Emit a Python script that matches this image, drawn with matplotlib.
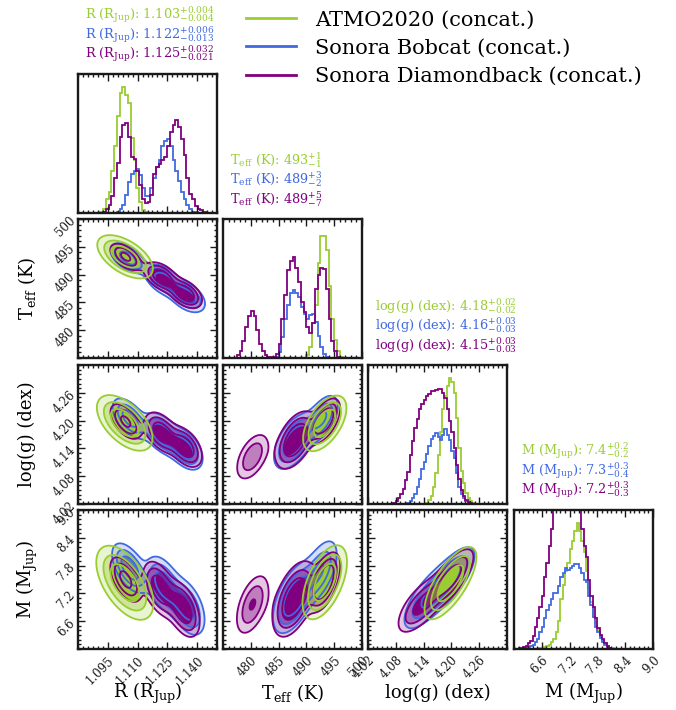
import numpy as np
import matplotlib
matplotlib.use("Agg")
import matplotlib.pyplot as plt
from matplotlib.colors import to_rgba
from matplotlib.lines import Line2D
from matplotlib.ticker import FixedLocator, AutoMinorLocator

plt.rcParams["font.family"] = ["DejaVu Serif"]
plt.rcParams["mathtext.fontset"] = "dejavuserif"

# --- models -------------------------------------------------------------
models = ["ATMO2020 (concat.)", "Sonora Bobcat (concat.)", "Sonora Diamondback (concat.)"]
colors = ["#9acd32", "#4169e1", "#800080"]

# --- parameters -----------------------------------------------------------
names = ["R (R$_{\\rm Jup}$)", "T$_{\\rm eff}$ (K)", "log(g) (dex)", "M (M$_{\\rm Jup}$)"]
ranges = [(1.08, 1.15), (475.0, 500.0), (4.02, 4.32), (6.0, 9.0)]
ticks = [[1.095, 1.110, 1.125, 1.140],
         [480, 485, 490, 495, 500],
         [4.02, 4.08, 4.14, 4.20, 4.26],
         [6.6, 7.2, 7.8, 8.4, 9.0]]
tick_fmt = ["{:.3f}", "{:.0f}", "{:.2f}", "{:.1f}"]
n_minor = [6, 5, 6, 6]

# median and 68% interval per model
r_med, r_up, r_lo = [1.103, 1.122, 1.125], [0.004, 0.006, 0.032], [0.004, 0.013, 0.021]
teff_med, teff_up, teff_lo = [493, 489, 489], [1, 3, 5], [1, 2, 7]
logg_med, logg_up, logg_lo = [4.18, 4.16, 4.15], [0.02, 0.03, 0.03], [0.02, 0.03, 0.03]
m_med, m_up, m_lo = [7.4, 7.3, 7.2], [0.2, 0.3, 0.3], [0.2, 0.4, 0.3]

# --- 1D posteriors (relative density per bin) ------------------------------
n_bins = [50, 50, 60, 60]

r_start = [8, 14, 9]
r_hist_atmo = [0.01, 0.03, 0.10, 0.15, 0.30, 0.48, 0.70, 0.86, 0.91, 0.85, 0.79, 0.54,
               0.38, 0.18, 0.08, 0.02, 0.005]
r_hist_bobcat = [0.01, 0.03, 0.06, 0.13, 0.22, 0.28, 0.30, 0.32, 0.27, 0.18, 0.12, 0.12,
                 0.18, 0.25, 0.33, 0.38, 0.48, 0.52, 0.53, 0.48, 0.38, 0.30, 0.23, 0.15,
                 0.10, 0.06, 0.03, 0.01, 0.005]
r_hist_diamond = [0.01, 0.03, 0.06, 0.12, 0.25, 0.36, 0.55, 0.63, 0.65, 0.55, 0.40, 0.39,
                  0.30, 0.20, 0.10, 0.07, 0.08, 0.13, 0.28, 0.33, 0.35, 0.38, 0.40, 0.48,
                  0.58, 0.63, 0.67, 0.62, 0.53, 0.42, 0.25, 0.14, 0.10, 0.05, 0.03, 0.02,
                  0.01]

teff_start = [30, 19, 5]
teff_hist_atmo = [0.02, 0.08, 0.25, 0.38, 0.68, 0.88, 0.88, 0.78, 0.52, 0.28, 0.13,
                  0.05, 0.01]
teff_hist_bobcat = [0.01, 0.04, 0.15, 0.28, 0.38, 0.47, 0.49, 0.47, 0.44, 0.37, 0.32,
                    0.28, 0.31, 0.32, 0.26, 0.16, 0.08, 0.03, 0.01]
teff_hist_diamond = [0.02, 0.05, 0.12, 0.22, 0.30, 0.34, 0.30, 0.20, 0.10, 0.05, 0.02,
                     0.01, 0.005, 0.01, 0.03, 0.10, 0.28, 0.45, 0.63, 0.70, 0.73, 0.65,
                     0.55, 0.40, 0.33, 0.22, 0.18, 0.25, 0.50, 0.60, 0.65, 0.64, 0.50,
                     0.28, 0.12, 0.05, 0.01]

logg_start = [25, 17, 11]
logg_hist_atmo = [0.01, 0.03, 0.06, 0.12, 0.22, 0.35, 0.52, 0.68, 0.78, 0.85, 0.91, 0.88,
                  0.80, 0.62, 0.40, 0.24, 0.15, 0.08, 0.04, 0.02, 0.005]
logg_hist_bobcat = [0.01, 0.02, 0.04, 0.07, 0.12, 0.18, 0.25, 0.30, 0.36, 0.42, 0.47,
                    0.49, 0.51, 0.48, 0.46, 0.50, 0.54, 0.50, 0.46, 0.38, 0.33, 0.22,
                    0.12, 0.07, 0.04, 0.02, 0.01]
logg_hist_diamond = [0.01, 0.02, 0.04, 0.07, 0.11, 0.17, 0.23, 0.35, 0.45, 0.55, 0.61,
                     0.68, 0.72, 0.75, 0.78, 0.79, 0.81, 0.81, 0.82, 0.83, 0.83, 0.80,
                     0.76, 0.68, 0.60, 0.52, 0.40, 0.28, 0.18, 0.10, 0.06, 0.03, 0.015,
                     0.005]

m_start = [11, 4, 2]
m_hist_atmo = [0.005, 0.01, 0.015, 0.02, 0.03, 0.05, 0.07, 0.12, 0.20, 0.36, 0.46, 0.56,
               0.62, 0.72, 0.78, 0.85, 0.91, 0.85, 0.78, 0.70, 0.56, 0.44, 0.34, 0.23,
               0.19, 0.14, 0.09, 0.06, 0.04, 0.02, 0.01, 0.005]
m_hist_bobcat = [0.005, 0.01, 0.015, 0.02, 0.03, 0.05, 0.07, 0.12, 0.16, 0.22, 0.28, 0.32,
                 0.36, 0.40, 0.40, 0.45, 0.52, 0.55, 0.58, 0.57, 0.58, 0.60, 0.61, 0.61,
                 0.58, 0.55, 0.50, 0.48, 0.38, 0.32, 0.23, 0.16, 0.12, 0.08, 0.05, 0.03,
                 0.015, 0.005]
m_hist_diamond = [0.005, 0.01, 0.015, 0.025, 0.04, 0.06, 0.09, 0.16, 0.22, 0.30, 0.38,
                  0.52, 0.62, 0.74, 0.86, 1.02, 1.12, 1.20, 1.25, 1.25, 1.22, 1.18, 1.12,
                  1.08, 1.05, 1.02, 1.02, 0.86, 0.74, 0.66, 0.50, 0.38, 0.30, 0.22, 0.15,
                  0.10, 0.07, 0.04, 0.02, 0.01]

hist_start = [r_start, teff_start, logg_start, m_start]
hists = [[r_hist_atmo, r_hist_bobcat, r_hist_diamond],
         [teff_hist_atmo, teff_hist_bobcat, teff_hist_diamond],
         [logg_hist_atmo, logg_hist_bobcat, logg_hist_diamond],
         [m_hist_atmo, m_hist_bobcat, m_hist_diamond]]

# --- 2D posteriors: modes as (x0, y0, sig_x, sig_y, rho, weight) -------------
r_teff_atmo = [(1.1037, 493.2, 0.0070, 1.95, -0.55, 1.0)]
r_teff_bobcat = [(1.105, 493.0, 0.0050, 1.5, -0.55, 0.30),
                 (1.123, 489.0, 0.0050, 1.55, -0.45, 0.35),
                 (1.135, 486.0, 0.0050, 1.55, -0.45, 0.35)]
r_teff_diamond = [(1.104, 493.2, 0.0045, 1.4, -0.55, 0.25),
                  (1.122, 489.6, 0.0045, 1.4, -0.45, 0.37),
                  (1.134, 486.6, 0.0045, 1.4, -0.45, 0.38)]

r_logg_atmo = [(1.1035, 4.195, 0.0070, 0.030, -0.55, 1.0)]
r_logg_bobcat = [(1.106, 4.205, 0.0050, 0.025, -0.55, 0.30),
                 (1.122, 4.172, 0.0050, 0.025, -0.45, 0.35),
                 (1.134, 4.138, 0.0050, 0.025, -0.45, 0.35)]
r_logg_diamond = [(1.104, 4.198, 0.0045, 0.022, -0.55, 0.25),
                  (1.122, 4.175, 0.0045, 0.023, -0.45, 0.37),
                  (1.134, 4.143, 0.0045, 0.023, -0.45, 0.38)]

r_m_atmo = [(1.1036, 7.43, 0.0072, 0.40, -0.55, 1.0)]
r_m_bobcat = [(1.106, 7.75, 0.0050, 0.30, -0.55, 0.30),
              (1.123, 7.40, 0.0050, 0.34, -0.45, 0.35),
              (1.135, 6.90, 0.0050, 0.34, -0.45, 0.35)]
r_m_diamond = [(1.104, 7.50, 0.0045, 0.28, -0.55, 0.25),
               (1.121, 7.30, 0.0045, 0.32, -0.45, 0.37),
               (1.133, 6.85, 0.0045, 0.32, -0.45, 0.38)]

teff_logg_atmo = [(493.3, 4.194, 1.95, 0.030, 0.55, 1.0)]
teff_logg_bobcat = [(492.8, 4.205, 1.7, 0.029, 0.55, 0.35),
                    (487.8, 4.155, 1.9, 0.031, 0.55, 0.65)]
teff_logg_diamond = [(480.3, 4.122, 1.7, 0.029, 0.50, 0.22),
                     (488.0, 4.158, 1.8, 0.031, 0.50, 0.50),
                     (493.3, 4.200, 1.4, 0.024, 0.55, 0.28)]

teff_m_atmo = [(493.3, 7.44, 2.0, 0.40, 0.55, 1.0)]
teff_m_bobcat = [(492.5, 7.70, 1.8, 0.38, 0.55, 0.35),
                 (487.8, 7.10, 2.0, 0.40, 0.55, 0.65)]
teff_m_diamond = [(480.3, 6.96, 1.7, 0.37, 0.50, 0.22),
                  (487.8, 7.08, 2.0, 0.42, 0.50, 0.50),
                  (493.3, 7.45, 1.4, 0.32, 0.55, 0.28)]

logg_m_atmo = [(4.198, 7.42, 0.028, 0.39, 0.72, 1.0)]
logg_m_bobcat = [(4.150, 7.10, 0.030, 0.38, 0.72, 0.5),
                 (4.200, 7.55, 0.028, 0.36, 0.72, 0.5)]
logg_m_diamond = [(4.135, 6.95, 0.028, 0.33, 0.68, 0.5),
                  (4.200, 7.55, 0.026, 0.33, 0.72, 0.5)]

pairs = {(1, 0): [r_teff_atmo, r_teff_bobcat, r_teff_diamond],
         (2, 0): [r_logg_atmo, r_logg_bobcat, r_logg_diamond],
         (3, 0): [r_m_atmo, r_m_bobcat, r_m_diamond],
         (2, 1): [teff_logg_atmo, teff_logg_bobcat, teff_logg_diamond],
         (3, 1): [teff_m_atmo, teff_m_bobcat, teff_m_diamond],
         (3, 2): [logg_m_atmo, logg_m_bobcat, logg_m_diamond]}

mass_fracs = [0.865, 0.675, 0.393]
fill_alpha = [0.22, 0.5, 1.0]


def density(modes, X, Y):
    D = np.zeros_like(X)
    for x0, y0, sx, sy, rho, w in modes:
        dx = (X - x0) / sx
        dy = (Y - y0) / sy
        q = (dx ** 2 - 2 * rho * dx * dy + dy ** 2) / (1 - rho ** 2)
        D += w * np.exp(-0.5 * q) / (2 * np.pi * sx * sy * np.sqrt(1 - rho ** 2))
    return D


def mass_levels(D):
    flat = np.sort(D.ravel())[::-1]
    cum = np.cumsum(flat)
    cum /= cum[-1]
    return [flat[min(np.searchsorted(cum, f), flat.size - 1)] for f in mass_fracs]


# --- layout ------------------------------------------------------------
W, H = 676, 710
lefts = [78, 223, 368, 514]
tops = [74, 219, 365, 510]
size = 139

fig = plt.figure(figsize=(W / 100, H / 100), dpi=100)


def panel(row, col):
    ax = fig.add_axes([lefts[col] / W, 1 - (tops[row] + size) / H, size / W, size / H])
    for s in ax.spines.values():
        s.set_linewidth(1.7)
        s.set_color("#1a1a1a")
    ax.set_xlim(ranges[col])
    ax.xaxis.set_major_locator(FixedLocator(ticks[col]))
    ax.xaxis.set_minor_locator(AutoMinorLocator(n_minor[col]))
    ax.tick_params(which="both", direction="in", top=True, bottom=True, width=1.0,
                   labelsize=8.5, colors="#1a1a1a")
    ax.tick_params(which="major", length=5)
    ax.tick_params(which="minor", length=2.5)
    if row == 3:
        ax.set_xticklabels([tick_fmt[col].format(t) for t in ticks[col]],
                           rotation=45, ha="right", rotation_mode="anchor")
    else:
        ax.set_xticklabels([])
    return ax


for k in range(4):
    ax = panel(k, k)
    lo, hi = ranges[k]
    edges_all = np.linspace(lo, hi, n_bins[k] + 1)
    for m in range(3):
        vals = hists[k][m]
        s = hist_start[k][m]
        ax.stairs(vals, edges_all[s:s + len(vals) + 1], baseline=0, color=colors[m], lw=1.3)
    ax.set_xlim(ranges[k])
    ax.set_ylim(0, 1.0)
    ax.set_yticks([])

for (row, col), models_modes in pairs.items():
    ax = panel(row, col)
    ax.set_ylim(ranges[row])
    ax.yaxis.set_major_locator(FixedLocator(ticks[row]))
    ax.yaxis.set_minor_locator(AutoMinorLocator(n_minor[row]))
    ax.tick_params(which="both", left=True, right=True)
    if col == 0:
        ax.set_yticklabels([tick_fmt[row].format(t) for t in ticks[row]],
                           rotation=45, va="center", ha="right", rotation_mode="anchor")
    else:
        ax.set_yticklabels([])
    xs = np.linspace(*ranges[col], 240)
    ys = np.linspace(*ranges[row], 240)
    X, Y = np.meshgrid(xs, ys)
    dens = [density(mm, X, Y) for mm in models_modes]
    levs = [mass_levels(D) for D in dens]
    for m in (1, 2, 0):
        D = dens[m]
        fills = [to_rgba(colors[m], a) for a in fill_alpha]
        ax.contourf(X, Y, D, levels=levs[m] + [D.max() * 1.001], colors=fills)
    for m in (1, 2, 0):
        ax.contour(X, Y, dens[m], levels=levs[m], colors=colors[m], linewidths=1.3)

# axis labels
for k in range(4):
    fig.text((lefts[k] + size / 2) / W, 1 - 693 / H, names[k], ha="center", va="center",
             fontsize=13)
for k in range(1, 4):
    fig.text(27 / W, 1 - (tops[k] + size / 2) / H, names[k], ha="center", va="center",
             rotation=90, fontsize=13)

# summary statistics above each 1D panel
summaries = [("R (R$_{\\rm Jup}$)", r_med, r_up, r_lo, 3),
             ("T$_{\\rm eff}$ (K)", teff_med, teff_up, teff_lo, 0),
             ("log(g) (dex)", logg_med, logg_up, logg_lo, 2),
             ("M (M$_{\\rm Jup}$)", m_med, m_up, m_lo, 1)]
for k, (lab, med, up, lo, nd) in enumerate(summaries):
    for m in range(3):
        txt = (lab + ": $" + f"{med[m]:.{nd}f}" + "^{+" + f"{up[m]:.{nd}f}" + "}_{-"
               + f"{lo[m]:.{nd}f}" + "}$")
        y = tops[k] - 59 + m * 19.5
        fig.text((lefts[k] + 7) / W, 1 - y / H, txt, color=colors[m], fontsize=9.3,
                 va="center", ha="left")

handles = [Line2D([], [], color=c, lw=2) for c in colors]
fig.legend(handles, models, loc="upper left", bbox_to_anchor=(238 / W, 1 - 2 / H),
           frameon=False, fontsize=15, handlelength=2.4, handletextpad=0.9,
           labelspacing=0.45, borderaxespad=0)

fig.savefig("out.png", dpi=100)
